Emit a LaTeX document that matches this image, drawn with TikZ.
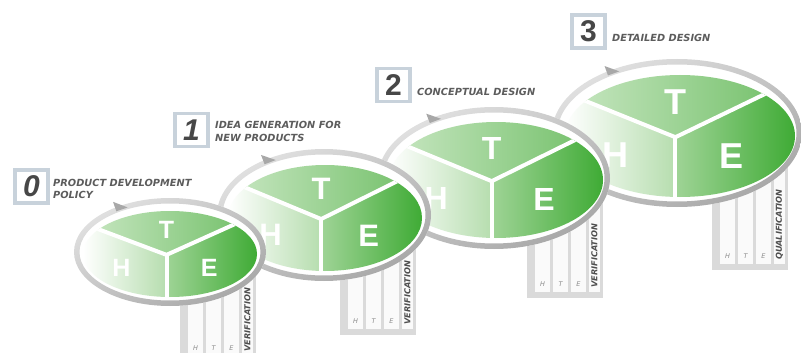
\documentclass[tikz,border=0pt]{standalone}
\usepackage{fontspec}
\setmainfont{Liberation Sans}
\newfontfamily\lblfont{DejaVu Sans}
\usetikzlibrary{calc}

\definecolor{gT1}{HTML}{C9E7C3}
\definecolor{gT2}{HTML}{6FBE65}
\definecolor{gH1}{HTML}{FFFFFF}
\definecolor{gH2}{HTML}{B3DCAB}
\definecolor{gE1}{HTML}{A0D497}
\definecolor{gE2}{HTML}{3FAB35}
\definecolor{ringA}{HTML}{E0E0E0}
\definecolor{ringB}{HTML}{A8A8A8}
\definecolor{panelgray}{HTML}{DADADA}
\definecolor{colwhite}{HTML}{FAFAFA}
\definecolor{txtgray}{HTML}{5C5C5C}
\definecolor{numframe}{HTML}{C8D2DB}
\definecolor{numgray}{HTML}{474747}
\definecolor{htegray}{HTML}{8C8C8C}
\definecolor{vgray}{HTML}{4E4E4E}

\tikzset{
  yline/.style={white, line width=4pt},
  letter/.style={text=white, inner sep=0pt, font=\bfseries\fontsize{#1}{#1}\selectfont},
  numbox/.style={draw=numframe, line width=3.5pt, fill=white, minimum width=33pt,
    minimum height=33pt, inner sep=0pt, text=numgray, font=\bfseries\fontsize{30}{30}\selectfont},
  lbl/.style={anchor=base west, inner sep=0pt, text=txtgray,
    font=\lblfont\bfseries\itshape\fontsize{9.8}{11}\selectfont},
  htesmall/.style={inner sep=0pt, text=htegray, font=\lblfont\itshape\fontsize{6.5}{7}\selectfont},
  vtext/.style={rotate=90, anchor=west, inner sep=0pt, text=vgray,
    font=\lblfont\bfseries\itshape\fontsize{8.2}{9}\selectfont}
}

% panel below an ellipse: left, top, bottom, text, prefix
\newcommand\htepanel[5]{%
  \fill[panelgray] (#1,#2) rectangle (#1+76,#3);
  \fill[colwhite] (#1+8,#2) rectangle (#1+23,#3-6);
  \fill[colwhite] (#1+26,#2) rectangle (#1+41,#3-6);
  \fill[colwhite] (#1+44,#2) rectangle (#1+59,#3-6);
  \fill[colwhite] (#1+62,#2) rectangle (#1+73,#3-6);
  \node[htesmall] (#5h) at (#1+15.5,#3-14) {H};
  \node[htesmall] (#5t) at (#1+33.5,#3-14) {T};
  \node[htesmall] (#5e) at (#1+51.5,#3-14) {E};
  \node[vtext] (#5v) at (#1+67.5,#3-10) {#4};
}

% grey ring with barb: cx, cy, rx, ry
\newcommand\htering[4]{%
  \fill[white] (#1,#2) circle[x radius=#3pt+3pt, y radius=#4pt+3pt];
  \shade[even odd rule, top color=ringA, bottom color=ringB, shading angle=30]
    (#1,#2) circle[x radius=#3pt+3pt, y radius=#4pt+3pt]
    (#1,#2) circle[x radius=#3pt-2.5pt, y radius=#4pt-2.5pt];
  \begin{scope}[shift={($(#1,#2)+(122:#3pt and #4pt)$)}, rotate={atan2(#4*0.530, #3*0.848)}]
    \fill[ringB] (-5,1) -- (-5,-9) -- (7,1) -- cycle;
  \end{scope}
}

% green HTE ellipse: cx, cy, rx, ry, letter size, prefix
\newcommand\hteellipse[6]{%
  \begin{scope}[shift={(#1,#2)}, xscale=#3, yscale=#4]
    \begin{scope}
      \clip (0,0) circle[radius=1pt];
      \begin{scope}
        \clip (-0.04,0.02) -- (-1.99,-1.465) -- (-2.2,-2.2) -- (2.2,-2.2) -- (1.888,-1.735) -- cycle;
        \shade[left color=gT1, right color=gT2] (-1,-1) rectangle (1,0.1);
      \end{scope}
      \begin{scope}
        \clip (-0.04,0.02) -- (-0.04,2) -- (-2.2,2) -- (-2.2,-1.465) -- (-1.99,-1.465) -- cycle;
        \shade[left color=gH1, right color=gH2] (-1,-0.7) rectangle (0,1);
      \end{scope}
      \begin{scope}
        \clip (-0.04,0.02) -- (1.888,-1.735) -- (2.2,-1.735) -- (2.2,2) -- (-0.04,2) -- cycle;
        \shade[left color=gE1, right color=gE2] (-0.05,-0.8) rectangle (1,1);
      \end{scope}
      \draw[yline] (-1.99,-1.465) -- (-0.04,0.02) -- (1.888,-1.735);
      \draw[yline] (-0.04,0.02) -- (-0.04,2);
    \end{scope}
    \node[letter=#5] (#6T) at (-0.04,-0.55) {T};
    \node[letter=#5] (#6H) at (-0.56,0.32) {H};
    \node[letter=#5] (#6E) at (0.45,0.33) {E};
  \end{scope}
}

\begin{document}
\begin{tikzpicture}[x=1pt,y=-1pt]
\useasboundingbox (0,0) rectangle (801,353);
\clip (0,0) rectangle (801,353);

% stage 3
\htepanel{712}{160}{270}{QUALIFICATION}{p3}
\htering{677}{133}{122}{71}
\hteellipse{680}{136}{115}{61}{36}{s3}
\node[numbox] (n3) at (588.5,31.5) {3};
\node[lbl] (l3) at (612,41.5) {DETAILED DESIGN};

% stage 2
\htepanel{527}{200}{298}{VERIFICATION}{p2}
\htering{494}{178}{113}{68}
\hteellipse{496}{180}{107}{58}{32}{s2}
\node[numbox] (n2) at (393.5,85) {2};
\node[lbl] (l2) at (417,95.5) {CONCEPTUAL DESIGN};

% stage 1
\htepanel{340}{240}{335}{VERIFICATION}{p1}
\htering{324}{215}{104}{63}
\hteellipse{325}{218}{97}{53}{31}{s1}
\node[numbox] (n1) at (191.5,130) {\itshape 1};
\node[lbl] (l1a) at (215,128.5) {IDEA GENERATION FOR};
\node[lbl] (l1b) at (215,141) {NEW PRODUCTS};

% stage 0
\htepanel{180}{270}{362}{VERIFICATION}{p0}
\htering{170}{252}{93}{51}
\hteellipse{170}{254}{87}{43}{25}{s0}
\node[numbox] (n0) at (31.5,186.5) {\itshape 0};
\node[lbl] (l0a) at (53,186.5) {PRODUCT DEVELOPMENT};
\node[lbl] (l0b) at (53,198.5) {POLICY};
\end{tikzpicture}
\end{document}
